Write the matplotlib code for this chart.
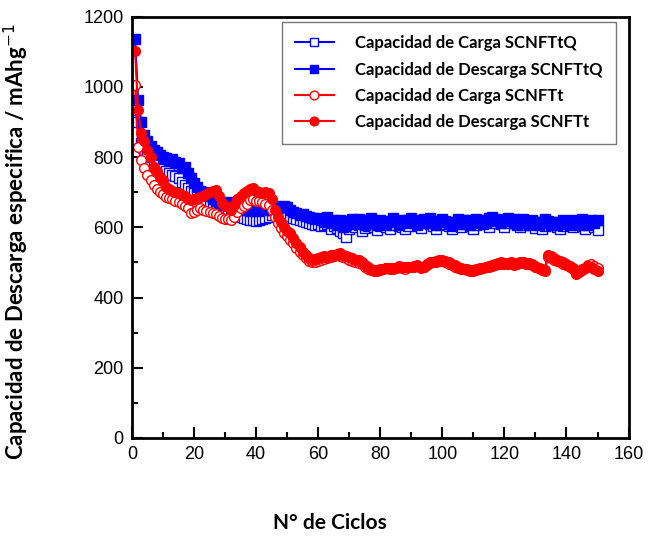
import matplotlib
matplotlib.use('Agg')
import matplotlib.pyplot as plt
from matplotlib.ticker import MultipleLocator

# cycle numbers
cycles = list(range(1, 151))

# Capacidad de Carga SCNFTtQ (open blue squares)
carga_tq = [
    935, 900, 840, 820, 810, 800, 790, 780, 770, 765,
    760, 755, 750, 745, 740, 730, 720, 712, 705, 700,
    692, 685, 680, 672, 665, 660, 655, 650, 648, 645,
    648, 645, 640, 635, 630, 628, 625, 622, 620, 618,
    621, 625, 628, 630, 635, 640, 645, 642, 640, 638,
    632, 628, 625, 620, 618, 615, 612, 610, 608, 610,
    605, 608, 610, 596, 605, 598, 590, 585, 572, 595,
    605, 600, 608, 590, 598, 605, 615, 600, 592, 605,
    610, 602, 596, 608, 618, 605, 600, 594, 605, 615,
    618, 605, 598, 615, 620, 610, 605, 596, 608, 618,
    610, 605, 595, 608, 615, 600, 610, 620, 605, 596,
    608, 612, 620, 610, 600, 612, 622, 625, 610, 600,
    612, 618, 624, 610, 600, 608, 614, 618, 608, 598,
    608, 596, 605, 612, 615, 608, 600, 596, 605, 614,
    608, 600, 610, 616, 605, 596, 608, 614, 600, 592,
]

# Capacidad de Descarga SCNFTtQ (filled blue squares)
descarga_tq = [
    1137, 962, 900, 862, 845, 832, 820, 815, 805, 800,
    798, 790, 795, 785, 783, 770, 772, 755, 740, 727,
    715, 705, 700, 698, 690, 682, 675, 668, 665, 670,
    672, 668, 660, 655, 650, 652, 650, 648, 655, 650,
    648, 652, 650, 655, 650, 660, 655, 658, 660, 658,
    650, 645, 640, 636, 638, 632, 630, 628, 625, 627,
    622, 616, 630, 612, 622, 608, 620, 600, 606, 618,
    625, 610, 624, 612, 606, 620, 628, 612, 608, 622,
    618, 608, 614, 626, 618, 608, 622, 612, 620, 626,
    612, 608, 620, 624, 612, 626, 618, 608, 614, 624,
    618, 610, 604, 616, 624, 610, 614, 620, 608, 614,
    624, 618, 610, 616, 626, 630, 618, 622, 612, 620,
    626, 620, 612, 608, 620, 624, 612, 608, 620, 614,
    608, 614, 624, 618, 608, 614, 606, 610, 620, 614,
    608, 620, 614, 608, 624, 614, 608, 620, 612, 622,
]

# Capacidad de Carga SCNFTt (open red circles)
carga_t = [
    1006, 830, 792, 770, 750, 735, 720, 710, 700, 695,
    687, 685, 680, 675, 672, 668, 662, 655, 641, 645,
    650, 655, 650, 648, 645, 642, 638, 632, 628, 625,
    623, 621, 630, 645, 655, 662, 668, 678, 680, 676,
    675, 673, 668, 665, 650, 630, 612, 598, 585, 575,
    565, 555, 540, 530, 520, 512, 505, 500, 502, 505,
    508, 510, 512, 515, 518, 520, 518, 515, 512, 508,
    505, 500, 498, 495, 488, 482, 478, 475, 475, 478,
    480, 483, 480, 482, 485, 488, 485, 482, 486, 488,
    488, 490, 485, 486, 492, 498, 500, 502, 505, 503,
    500, 496, 492, 488, 485, 482, 480, 478, 476, 477,
    479, 481, 483, 486, 488, 490, 492, 495, 497, 495,
    496, 498, 492, 495, 498, 500, 496, 495, 492, 488,
    483, 478, 476, 515, 514, 508, 504, 502, 497, 492,
    488, 482, 468, 472, 478, 484, 492, 495, 490, 485,
]

# Capacidad de Descarga SCNFTt (filled red circles)
descarga_t = [
    1103, 935, 869, 845, 821, 800, 772, 760, 744, 735,
    716, 710, 705, 700, 698, 692, 688, 682, 678, 680,
    685, 687, 690, 695, 700, 705, 707, 690, 670, 660,
    658, 650, 665, 680, 690, 698, 705, 710, 713, 705,
    700, 698, 700, 698, 680, 650, 630, 615, 600, 590,
    584, 570, 555, 544, 530, 520, 512, 507, 510, 512,
    515, 518, 516, 520, 522, 525, 527, 522, 518, 515,
    512, 508, 507, 500, 492, 488, 482, 479, 478, 480,
    482, 485, 483, 485, 485, 490, 488, 486, 488, 488,
    490, 492, 488, 488, 495, 500, 502, 505, 507, 507,
    505, 500, 495, 492, 488, 485, 482, 480, 479, 479,
    481, 483, 485, 488, 490, 492, 495, 498, 500, 498,
    499, 500, 495, 498, 500, 502, 499, 499, 495, 490,
    485, 480, 479, 522, 518, 512, 507, 505, 500, 495,
    490, 485, 470, 475, 480, 485, 490, 488, 480, 475,
]

labels = [
    'Capacidad de Carga SCNFTtQ',
    'Capacidad de Descarga SCNFTtQ',
    'Capacidad de Carga SCNFTt',
    'Capacidad de Descarga SCNFTt',
]

blue = '#0000ff'
red = '#ff0000'

fig = plt.figure(figsize=(6.5, 5.42), dpi=100)
ax = fig.add_axes([0.203, 0.192, 0.764, 0.777])

ax.plot(cycles, carga_tq, color=blue, lw=1.5, marker='s', ms=6.5,
        mfc='white', mec=blue, mew=1.0, label=labels[0])
ax.plot(cycles, descarga_tq, color=blue, lw=1.5, marker='s', ms=6.5,
        mfc=blue, mec=blue, label=labels[1])
ax.plot(cycles, carga_t, color=red, lw=1.5, marker='o', ms=7,
        mfc='white', mec=red, mew=1.0, label=labels[2])
ax.plot(cycles, descarga_t, color=red, lw=1.5, marker='o', ms=7,
        mfc=red, mec=red, label=labels[3])

ax.set_xlim(0, 160)
ax.set_ylim(0, 1200)
ax.xaxis.set_major_locator(MultipleLocator(20))
ax.xaxis.set_minor_locator(MultipleLocator(10))
ax.yaxis.set_major_locator(MultipleLocator(200))
ax.yaxis.set_minor_locator(MultipleLocator(100))
ax.tick_params(which='both', direction='in', top=False, right=False,
               width=1.5, labelsize=13, pad=6)
ax.tick_params(which='major', length=8)
ax.tick_params(which='minor', length=4)
for lab in ax.get_xticklabels() + ax.get_yticklabels():
    lab.set_fontfamily('Liberation Sans')
for sp in ax.spines.values():
    sp.set_linewidth(2)

leg = ax.legend(loc='upper left', bbox_to_anchor=(0.302, 0.988),
                prop={'family': 'Lato', 'weight': 'bold', 'size': 12},
                frameon=True, fancybox=False, edgecolor='#555555',
                handlelength=2.3, handletextpad=1.3, labelspacing=0.62,
                borderpad=0.8, borderaxespad=0, markerscale=0.9)
leg.get_frame().set_linewidth(1.0)

fig.text(0.026, 0.555, 'Capacidad de Descarga especifica / mAhg$^{-1}$',
         rotation=90, ha='center', va='center', fontsize=16,
         fontweight='bold', family='Lato')
fig.text(0.508, 0.035, 'N° de Ciclos', ha='center', va='center',
         fontsize=15, fontweight='bold', family='Lato')

fig.savefig('out.png', dpi=100)
